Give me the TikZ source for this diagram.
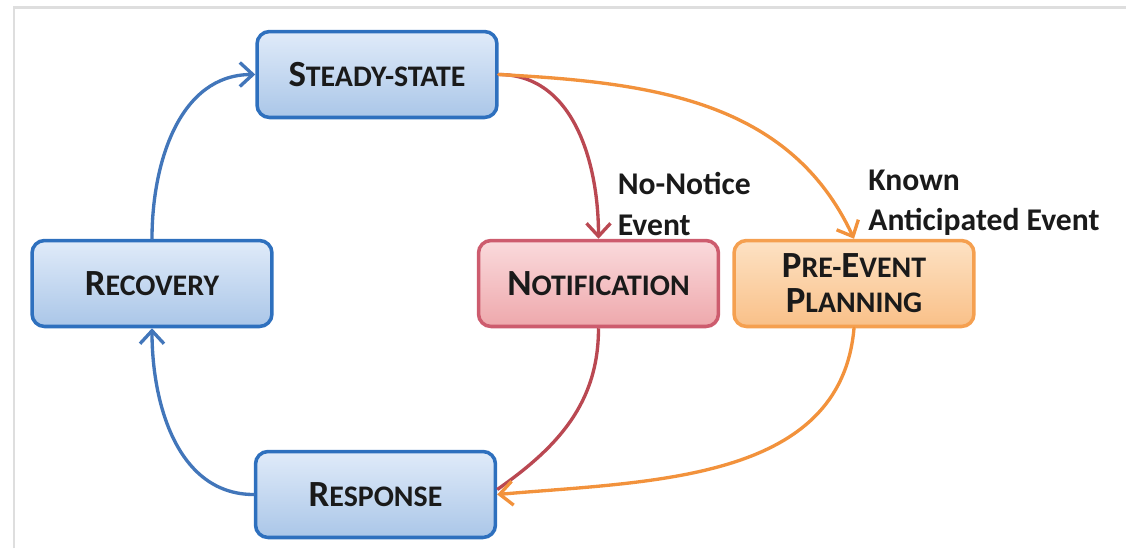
\documentclass[tikz,border=0pt]{standalone}
\usepackage{fontspec}
\setmainfont{Carlito}
\usetikzlibrary{arrows.meta}
\definecolor{frameline}{RGB}{222,222,222}
\definecolor{blueline}{RGB}{46,112,190}
\definecolor{bluetop}{RGB}{224,235,249}
\definecolor{bluebot}{RGB}{170,198,232}
\definecolor{redline}{RGB}{205,92,110}
\definecolor{redtop}{RGB}{250,218,220}
\definecolor{redbot}{RGB}{238,168,172}
\definecolor{orangeline}{RGB}{245,160,80}
\definecolor{orangetop}{RGB}{253,226,196}
\definecolor{orangebot}{RGB}{249,192,136}
\definecolor{blueflow}{RGB}{66,118,186}
\definecolor{redflow}{RGB}{186,72,82}
\definecolor{orangeflow}{RGB}{242,146,60}
\definecolor{inkdark}{RGB}{26,26,26}
\newcommand\initcap[1]{{\fontsize{21}{24}\selectfont #1}}
\tikzset{
    phase/.style={draw, line width=2pt, rounded corners=0.25cm,
        minimum width=4.8cm, minimum height=1.72cm, align=center,
        text=inkdark, font=\bfseries\fontsize{17}{20}\selectfont},
    bluephase/.style={phase, draw=blueline, top color=bluetop, bottom color=bluebot},
    redphase/.style={phase, draw=redline, top color=redtop, bottom color=redbot},
    orangephase/.style={phase, draw=orangeline, top color=orangetop, bottom color=orangebot},
    flow/.style={line width=1.9pt, line cap=round, -{Straight Barb[length=2.6mm,width=4.8mm]}},
    evlabel/.style={anchor=south west, align=left, inner sep=0pt, text=inkdark,
        font=\bfseries\fontsize{18}{23}\selectfont},
}

\begin{document}
\begin{tikzpicture}[x=0.02cm,y=-0.02cm]
\useasboundingbox (0,0) rectangle (1126,548);
\draw[frameline, line width=0.06cm] (14,548) -- (14,7) -- (1126,7);
\node[bluephase] (steady) at (377,74.5) {\initcap{S}TEADY-STATE};
\node[bluephase] (recovery) at (152,283.5) {\initcap{R}ECOVERY};
\node[redphase] (notify) at (598.5,283.5) {\initcap{N}OTIFICATION};
\node[orangephase] (preevent) at (854,283.5) {\initcap{P}RE-\initcap{E}VENT\\\initcap{P}LANNING};
\node[bluephase] (response) at (375.5,494.5) {\initcap{R}ESPONSE};
\node[evlabel] (nonotice) at ([xshift=0.38cm,yshift=0.06cm]notify.north) {No-Notice\\Event};
\node[evlabel] (known) at ([xshift=0.28cm,yshift=0.06cm]preevent.north) {Known\\Anticipated Event};
\draw[flow, blueflow] (response.west) to[out=180,in=-90] (recovery.south);
\draw[flow, blueflow] (recovery.north) to[out=90,in=180] (steady.west);
\draw[flow, redflow] (steady.east) to[out=0,in=90] (notify.north);
\draw[flow, orangeflow] (steady.east) to[out=-3,in=115] (preevent.north);
\draw[line width=1.9pt, redflow] (notify.south) to[out=-90,in=35] ([yshift=0.1cm]response.east);
\draw[flow, orangeflow] (preevent.south) to[out=-95,in=5] (response.east);
\end{tikzpicture}
\end{document}
